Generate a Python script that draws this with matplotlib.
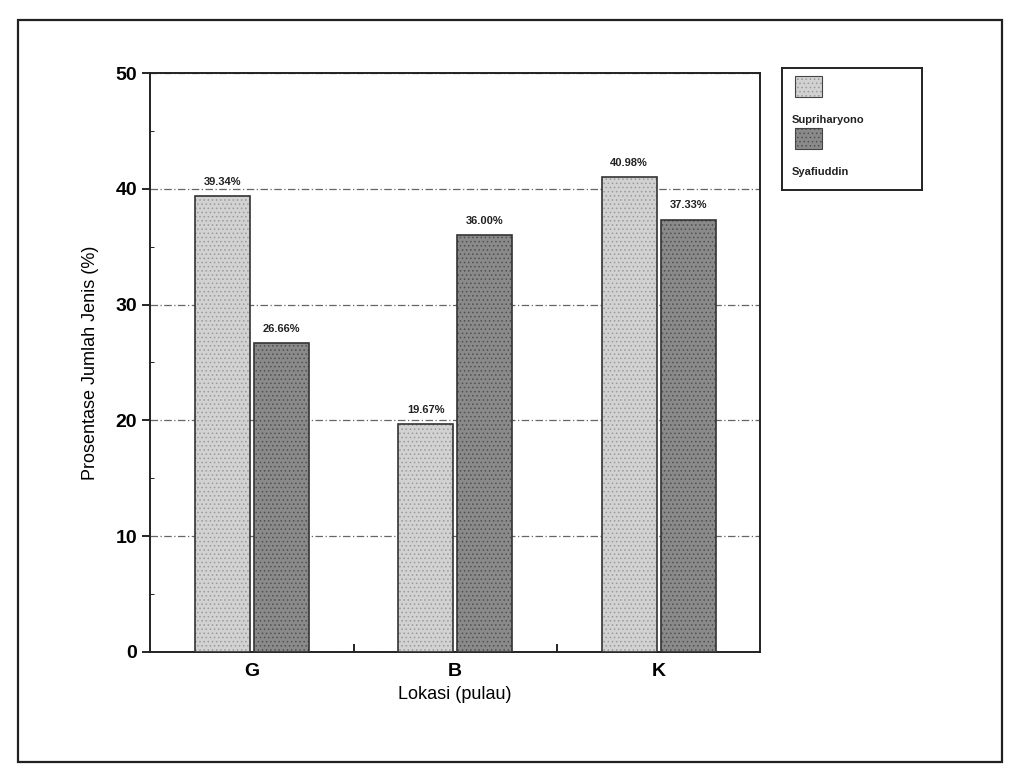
import matplotlib
matplotlib.use("Agg")
import matplotlib.pyplot as plt
from matplotlib.patches import Rectangle
import numpy as np

plt.rcParams['font.family'] = ['Liberation Sans', 'DejaVu Sans']
plt.rcParams['hatch.linewidth'] = 0.6

locations = ["G", "B", "K"]
series_names = ["Supriharyono", "Syafiuddin"]
supriharyono = [39.34, 19.67, 40.98]
syafiuddin = [26.66, 36.00, 37.33]
y_ticks = [0, 10, 20, 30, 40, 50]

fig = plt.figure(figsize=(10.15, 7.77), dpi=100)
ax = fig.add_axes([0.148, 0.161, 0.601, 0.745])

x = np.arange(len(locations))
width = 0.27
face = ["#d2d2d2", "#8a8a8a"]
hatch_col = ["#9a9a9a", "#505050"]

for i, (vals, off) in enumerate([(supriharyono, -width / 2 - 0.01), (syafiuddin, width / 2 + 0.01)]):
    ax.bar(x + off, vals, width, color=face[i], edgecolor=hatch_col[i],
           hatch="....", linewidth=0, zorder=3)
    ax.bar(x + off, vals, width, fill=False, edgecolor="#333333", linewidth=1.2, zorder=4)
    for xi, v in zip(x + off, vals):
        ax.text(xi, v + 0.8, f"{v:.2f}%", ha="center", va="bottom",
                fontsize=8, fontweight="bold", color="#222222", zorder=5)

ax.set_xlim(-0.5, 2.5)
ax.set_ylim(0, 50)
ax.set_yticks(y_ticks)
ax.set_yticks(np.arange(5, 50, 10), minor=True)
ax.set_xticks(x)
ax.set_xticklabels(locations)
ax.set_xticks([0.5, 1.5], minor=True)
ax.tick_params(axis="both", which="major", labelsize=14, length=6, direction="out", width=1.2)
ax.tick_params(axis="y", which="minor", length=3, direction="in")
ax.tick_params(axis="x", which="minor", length=6, direction="in", width=1.2)
for lab in ax.get_xticklabels() + ax.get_yticklabels():
    lab.set_fontweight("bold")
ax.tick_params(axis="x", which="major", length=0, pad=8)

ax.grid(axis="y", which="major", color="#666666", linestyle=(0, (6, 2, 1, 2)), linewidth=0.9, zorder=1)
for s in ax.spines.values():
    s.set_linewidth(1.4)
    s.set_color("#222222")

ax.set_ylabel("Prosentase Jumlah Jenis (%)", fontsize=13, labelpad=12)
ax.set_xlabel("Lokasi (pulau)", fontsize=13, labelpad=4)

# legend box with swatch above each name
lg = fig.add_axes([782 / 1015, 1 - 190 / 777, 140 / 1015, 122 / 777])
lg.set_xlim(0, 140)
lg.set_ylim(122, 0)
lg.set_xticks([])
lg.set_yticks([])
for s in lg.spines.values():
    s.set_linewidth(1.4)
    s.set_color("#222222")
swatch_y = [8, 60]
for i, name in enumerate(series_names):
    lg.add_patch(Rectangle((13, swatch_y[i]), 27, 21, facecolor=face[i],
                           edgecolor=hatch_col[i], hatch="....", linewidth=0))
    lg.add_patch(Rectangle((13, swatch_y[i]), 27, 21, fill=False,
                           edgecolor="#444444", linewidth=0.8))
    lg.text(10, swatch_y[i] + 44, name, fontsize=8, fontweight="bold",
            ha="left", va="center", color="#222222")

# outer frame
fig.patches.append(Rectangle((18 / 1015, 1 - 762 / 777), 984 / 1015, 742 / 777,
                             transform=fig.transFigure, fill=False,
                             edgecolor="#222222", linewidth=1.6))

fig.savefig("out.png", dpi=100)
